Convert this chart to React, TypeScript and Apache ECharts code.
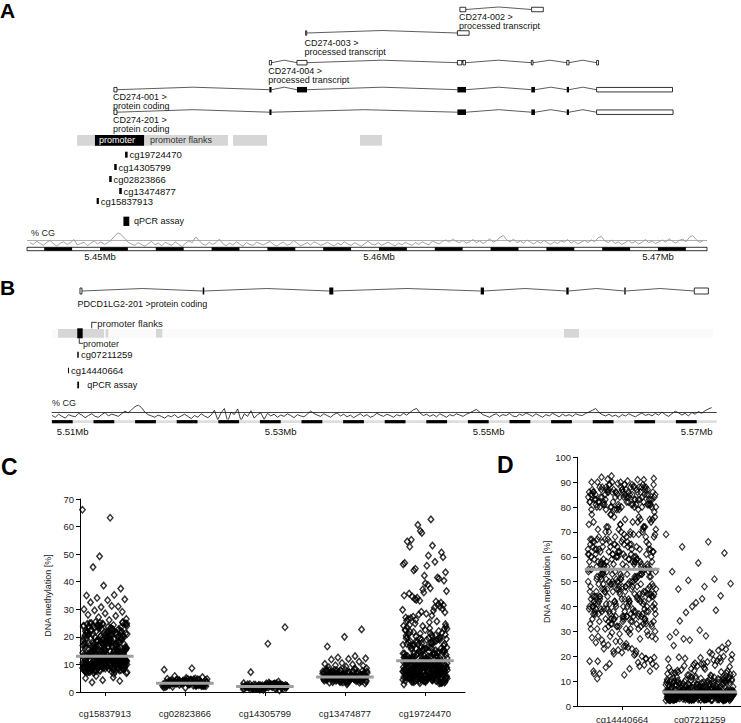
import React, { useEffect, useRef } from 'react';
import * as echarts from 'echarts';

const FONT = '"Liberation Sans", Arial, Helvetica, sans-serif';

// ---------------- Panel A : CD274 locus (positions in kb) ----------------
const A_TRANSCRIPTS = ['CD274-002', 'CD274-003', 'CD274-004', 'CD274-001', 'CD274-201'];
const A_BIOTYPES = ['processed transcript', 'processed transcript', 'processed transcript', 'protein coding', 'protein coding'];
// [transcript index, start kb, end kb, coding(1) / non-coding(0)]
const A_EXONS = [
  [0, 5462.90, 5463.11, 0], [0, 5465.47, 5465.89, 0],
  [1, 5457.37, 5457.41, 0], [1, 5462.81, 5463.23, 0],
  [2, 5456.07, 5456.15, 0], [2, 5457.06, 5457.42, 0], [2, 5462.81, 5462.97, 0], [2, 5463.01, 5463.10, 0],
  [2, 5465.46, 5465.52, 0], [2, 5466.73, 5466.81, 0], [2, 5467.80, 5467.87, 0],
  [3, 5450.50, 5450.61, 0], [3, 5456.07, 5456.15, 1], [3, 5457.06, 5457.42, 1], [3, 5462.81, 5463.12, 1],
  [3, 5465.46, 5465.59, 1], [3, 5466.73, 5466.81, 1], [3, 5467.80, 5470.52, 0],
  [4, 5450.50, 5450.61, 0], [4, 5456.07, 5456.15, 1], [4, 5462.81, 5463.12, 1],
  [4, 5465.46, 5465.59, 1], [4, 5466.73, 5466.81, 1], [4, 5467.80, 5470.54, 0],
];
// [start kb, end kb, promoter(1) / flank(0)]
const A_REGULATORY = [[5449.18, 5454.59, 0], [5454.77, 5455.99, 0], [5459.32, 5460.11, 0], [5449.82, 5451.58, 1]];
const A_PROBES = ['cg19724470', 'cg14305799', 'cg02823866', 'cg13474877', 'cg15837913'];
const A_PROBE_POS = [[5450.90, 5450.99], [5450.51, 5450.60], [5450.33, 5450.42], [5450.69, 5450.78], [5449.88, 5449.96]];
const A_QPCR = [5450.84, 5451.05];
const A_SCALE_TICKS = [5450, 5460, 5470];
const A_GC_START = 5447.49;
const A_GC_END = 5471.61;
const A_GC = [
  44, 40, 47, 42, 38, 45, 49, 41, 36, 43, 46, 40, 44, 51, 39, 42, 45, 37, 43, 48, 41, 46, 40, 44, 50,
  58, 66, 62, 54, 45,
  41, 38, 44, 40, 36, 42, 47, 39, 43, 37, 45, 41, 38, 46, 40, 35, 43, 48, 44, 57,
  49, 41, 38, 45, 40, 44, 52, 42, 37, 43, 39, 46, 41, 36, 44, 40, 38, 45, 42, 39,
  43, 47, 40, 36, 42, 45, 38, 41, 49, 43, 37, 40, 44, 39, 46, 42, 38, 41, 45, 40,
  37, 43, 39, 46, 41, 38, 44, 40, 36, 42, 47, 41, 39, 44, 38, 42, 45, 40, 37, 43,
  39, 45, 41, 38, 44, 40, 46, 42, 39, 48, 44, 41, 47, 50, 45, 52, 47, 44, 49, 43,
  46, 51, 44, 48, 42, 47, 53, 45, 49, 56, 60, 50, 46, 52, 44, 48, 43, 50, 45, 41,
  47, 43, 49, 44, 40, 46, 42, 48, 45, 51, 43, 47, 41, 45, 49, 44, 50, 46, 55, 58,
  48, 44, 50, 42, 46, 40, 44, 49, 43, 47, 41, 45, 51, 44, 48, 42, 46, 50, 45, 53,
  47, 43, 49, 52, 46, 56, 60, 51, 45, 48,
];

// ---------------- Panel B : PDCD1LG2 locus ----------------
const B_TRANSCRIPT = 'PDCD1LG2-201';
const B_BIOTYPE = 'protein coding';
const B_EXONS = [
  [5510.70, 5510.89, 0], [5522.50, 5522.65, 1], [5534.67, 5535.06, 1], [5549.23, 5549.55, 1],
  [5557.46, 5557.69, 1], [5563.04, 5563.17, 1], [5569.77, 5571.12, 0],
];
const B_REGULATORY = [[5508.59, 5513.01, 0], [5513.17, 5513.42, 0], [5518.01, 5518.62, 0], [5557.24, 5558.68, 0], [5510.44, 5510.96, 1]];
const B_PROBES = ['cg07211259', 'cg14440664'];
const B_PROBE_POS = [[5510.44, 5510.58], [5509.55, 5509.64]];
const B_QPCR = [5510.44, 5510.61];
const B_SCALE_TICKS = [5510, 5530, 5550, 5570];
const B_GC_START = 5508.01;
const B_GC_END = 5571.44;
const B_GC = [
  42, 38, 45, 40, 36, 44, 41, 39, 47, 43, 37, 42, 46, 40, 38, 44, 49, 41, 45, 43,
  40, 46, 52, 48, 55, 62, 66, 60, 50, 44, 41, 38, 43, 40, 36, 42, 39, 44, 37, 41,
  45, 40, 35, 42, 38, 46, 41, 37, 43, 54, 32, 48, 58, 28, 50, 44, 57, 30, 46, 40,
  53, 36, 44, 48, 33, 47, 41, 45, 38, 43, 40, 46, 42, 37, 44, 41, 39, 45, 52, 47,
  43, 40, 46, 42, 38, 44, 48, 41, 45, 39, 43, 37, 42, 46, 40, 44, 38, 41, 47, 43,
  40, 45, 42, 38, 44, 41, 47, 43, 49, 55, 58, 48, 42, 45, 40, 44, 39, 46, 42, 38,
  44, 41, 46, 43, 40, 45, 48, 52, 56, 50, 44, 41, 38, 43, 46, 40, 44, 42, 47, 41,
  39, 45, 42, 48, 44, 40, 46, 42, 38, 44, 41, 47, 43, 39, 45, 41, 44, 40, 46, 43,
  42, 47, 50, 54, 58, 49, 44, 41, 45, 40, 43, 38, 44, 41, 46, 42, 39, 44, 48, 42,
  45, 41, 47, 43, 50, 44, 40, 46, 52, 48, 43, 47, 41, 49, 45, 51, 47, 53, 57, 60,
];

// ---------------- Panel C ----------------
const C_PROBES = ['cg15837913', 'cg02823866', 'cg14305799', 'cg13474877', 'cg19724470'];
const C_MEDIANS = [13.0, 3.2, 2.0, 5.4, 11.3];
const C_cg15837913 = [
  9.7, 12.4, 7.8, 11.2, 10.3, 8.6, 12.9, 9.9, 11.8, 8.2, 10.6, 12.2, 9.3, 7.4, 11.5, 10.1, 8.9, 12.7, 9.5, 11.1,
  10.8, 7.1, 12.1, 9.1, 11.6, 8.4, 10.4, 12.6, 9.6, 7.6, 11.3, 10.9, 8.1, 12.3, 9.0, 11.9, 10.2, 8.7, 12.8, 9.8,
  7.9, 11.0, 10.5, 8.3, 12.5, 9.2, 11.7, 10.0, 8.8, 12.0, 9.4, 7.3, 11.4, 10.7, 8.5, 12.9, 9.9, 11.2, 6.8, 10.3,
  8.0, 12.2, 9.6, 11.6, 10.6, 7.7, 12.4, 9.1, 11.8, 8.6, 10.1, 12.7, 9.4, 6.9, 11.1, 10.4, 8.2, 12.1, 9.7, 11.5,
  10.9, 8.9, 12.6, 9.3, 7.5, 11.3, 10.0, 8.4, 12.3, 9.0, 11.9, 10.8, 7.2, 12.8, 9.8, 11.0, 8.7, 10.5, 6.6, 12.0,
  15.1, 18.9, 22.3, 13.6, 20.4, 24.1, 16.7, 14.9, 19.5, 21.7, 13.1, 17.4, 23.6, 15.7, 20.9, 14.3, 18.1, 24.8, 16.2, 22.7,
  13.9, 19.8, 17.9, 21.2, 14.6, 25.1, 16.9, 23.3, 15.4, 19.2, 13.3, 21.9, 17.1, 24.4, 15.9, 20.1, 14.1, 18.6, 22.9, 13.7,
  16.4, 19.9, 25.3, 14.8, 17.6, 21.4, 15.2, 23.9, 18.4, 20.7, 16.1, 24.6, 19.4, 14.4, 22.1, 17.3, 13.4, 25.0, 15.6, 20.2,
  18.8, 23.1, 14.7, 19.1, 16.6, 21.6, 13.8, 24.2, 15.3, 18.3, 22.5, 14.2, 17.7, 20.6, 16.3, 25.4, 13.5, 18.2, 23.7, 16.8,
  49.2, 66.1, 63.2, 45.3, 37.5, 38.6, 35.0, 35.2, 34.1, 33.6, 33.3, 32.5, 31.0, 30.8, 30.0, 31.2, 29.6, 29.1, 28.5, 28.0,
  27.6, 27.1, 26.5, 26.1, 3.5, 4.0, 4.3, 5.0, 5.3, 5.8,
  8.3, 11.4, 9.5, 12.6, 7.7, 10.2, 12.1, 8.8, 11.0, 9.3, 10.7, 7.5, 12.4, 9.9, 11.7, 8.1, 10.4, 12.9, 9.0, 11.2,
  7.9, 10.9, 12.3, 8.6, 11.5, 9.6, 10.0, 12.7, 8.4, 11.9, 9.2, 7.3, 10.6, 12.0, 8.9, 11.3, 9.7, 10.3, 12.5, 8.2,
  11.6, 7.6, 10.1, 12.8, 9.4, 11.1, 8.7, 10.8, 12.2, 9.1, 7.8, 11.8, 10.5, 8.5, 12.6, 9.8, 11.4, 7.2, 10.0, 9.5,
  14.2, 20.3, 17.8, 23.4, 15.6, 21.5, 13.2, 18.7, 24.9, 16.5, 19.7, 22.8, 14.9, 17.2, 21.1, 13.7, 25.2, 18.1, 15.8, 20.8,
  23.0, 16.0, 19.3, 14.5, 22.4, 17.5, 13.4, 24.3, 18.5, 15.1, 21.8, 16.9, 20.0, 14.0, 23.8, 19.0, 17.0, 22.0, 15.4, 24.7,
  13.9, 18.4, 21.3, 16.3, 25.0, 14.6, 19.5, 17.7, 22.6, 15.9, 20.5, 13.1, 23.5, 18.0, 16.6, 21.0, 14.8, 24.0, 19.9, 17.3,
  10.2, 14.6, 18.3, 11.7, 21.2, 9.1, 16.0, 13.3, 19.6, 8.6, 23.2, 12.5, 15.5, 20.6, 10.9, 17.2, 24.5, 12.0, 14.1, 9.6,
  18.8, 22.0, 11.4, 16.8, 13.8, 20.0, 8.9, 15.0, 24.0, 10.6, 17.9, 12.8, 21.6, 14.4, 9.3, 19.3, 11.1, 16.3, 23.6, 13.0,
  8.4, 18.0, 12.3, 22.7, 15.8, 10.0, 20.9, 14.0, 17.4, 11.9, 24.8, 9.8, 16.6, 13.6, 19.0, 10.4, 21.9, 15.3, 12.6, 18.5,
];
const C_cg02823866 = [
  3.1, 2.4, 4.2, 3.6, 2.8, 1.9, 3.9, 3.3, 2.6, 4.6, 3.0, 2.2, 3.7, 4.1, 2.9, 3.4, 1.7, 4.4, 3.2, 2.5,
  3.8, 2.7, 4.9, 3.5, 2.1, 3.0, 4.3, 2.8, 3.6, 1.8, 4.0, 3.3, 2.4, 5.1, 3.1, 2.6, 3.9, 2.3, 4.5, 3.4,
  2.9, 3.7, 2.0, 4.1, 3.2, 2.7, 4.7, 3.5, 2.5, 3.0, 8.1, 8.6, 5.8, 5.4, 1.5, 3.8, 2.2, 4.3, 3.6, 2.9,
  3.3, 2.7, 4.0, 3.5, 2.3, 4.4, 3.0, 3.8, 2.5, 4.6, 3.2, 2.9, 4.1, 3.6, 2.1, 3.9, 4.8, 2.6, 3.4, 4.2,
  2.8, 3.7, 4.5, 3.1, 2.4, 4.0, 3.5, 2.2, 4.3, 3.0, 3.8, 2.6, 4.7, 3.3, 2.9, 3.6, 4.1, 2.7, 3.2, 4.4,
];
const C_cg14305799 = [
  1.9, 2.6, 1.2, 2.2, 3.0, 1.6, 2.4, 0.8, 1.8, 2.9, 1.4, 2.1, 2.7, 1.0, 2.3, 1.7, 3.2, 2.0, 1.3, 2.5,
  1.9, 2.8, 1.1, 2.2, 1.5, 3.4, 2.0, 0.6, 2.4, 1.8, 2.6, 1.3, 2.1, 3.1, 1.7, 2.3, 0.9, 2.0, 2.7, 1.6,
  2.5, 1.4, 2.2, 3.0, 1.9, 23.5, 17.5, 7.2, 3.8, 2.1, 1.2, 2.8, 1.8, 2.4, 1.5,
  2.1, 1.5, 2.6, 1.9, 2.3, 1.1, 2.8, 1.7, 2.0, 2.5, 1.3, 2.2, 1.8, 2.9, 1.6, 2.4, 1.0, 2.1, 2.7, 1.4,
  2.3, 1.9, 3.0, 1.2, 2.5, 1.7, 2.0, 2.8, 1.5, 2.2, 1.8, 2.6, 1.1, 2.4, 1.9, 3.1, 1.6, 2.1, 2.7, 1.3,
];
const C_cg13474877 = [
  5.2, 6.8, 4.1, 7.5, 5.9, 3.6, 6.2, 4.8, 8.1, 5.5, 4.4, 7.0, 3.2, 6.5, 5.0, 7.8, 4.6, 6.0, 5.7, 3.9,
  6.9, 4.9, 8.4, 5.3, 4.2, 7.2, 5.8, 3.4, 6.4, 4.7, 7.6, 5.1, 6.1, 4.0, 8.0, 5.6, 3.7, 6.7, 4.5, 7.3,
  5.4, 6.3, 4.3, 8.3, 5.0, 3.1, 6.6, 4.8, 7.1, 5.9, 4.1, 6.0, 5.3, 7.7, 3.8, 6.2, 4.6, 5.5, 8.6, 4.4,
  6.5, 5.1, 3.5, 7.4, 4.9, 6.8, 5.7, 2.8, 6.1, 4.2, 7.9, 5.2, 4.7, 6.4,
  22.7, 20.0, 16.5, 13.0, 12.5, 12.2, 12.0, 11.8, 11.0, 10.5, 10.2, 10.0, 9.7, 9.5, 9.2, 9.0,
  5.6, 4.3, 6.9, 5.0, 7.4, 3.9, 6.2, 5.4, 4.7, 7.8, 5.9, 4.1, 6.6, 5.2, 3.6, 7.0, 5.7, 4.5, 6.3, 8.2,
  4.9, 5.5, 6.8, 3.8, 7.2, 5.1, 4.4, 6.0, 5.8, 7.6, 4.0, 6.5, 5.3, 3.4, 6.9, 4.8, 7.5, 5.6, 4.2, 6.1,
  5.0, 7.9, 4.6, 6.4, 5.4, 3.7, 7.1, 5.9, 4.3, 6.7, 5.2, 8.0, 4.9, 6.2, 5.7, 3.9, 7.3, 5.5, 4.5, 6.6,
];
const C_cg19724470 = [
  5.2, 8.7, 3.9, 10.4, 6.6, 9.3, 4.8, 7.5, 11.0, 5.9, 8.1, 3.4, 9.9, 6.2, 7.8, 4.5, 10.8, 5.6, 8.9, 6.9,
  4.1, 9.6, 7.2, 10.1, 5.4, 8.4, 3.7, 6.5, 11.2, 7.9, 4.9, 9.1, 6.0, 10.6, 5.1, 8.2, 3.2, 7.4, 9.5, 6.3,
  4.6, 10.9, 5.8, 8.6, 7.0, 3.8, 9.8, 6.7, 11.1, 5.3, 8.0, 4.3, 10.3, 7.6, 6.1, 9.2, 4.0, 8.8, 5.7, 10.7,
  6.4, 3.5, 9.4, 7.3, 5.0, 10.0, 8.3, 4.4, 6.8, 11.3, 5.5, 9.0, 7.1, 3.6, 8.5, 6.0, 10.5, 4.7, 7.7, 9.7,
  5.9, 8.1, 3.1, 10.2, 6.6, 4.2, 9.3, 7.4, 5.2, 11.0, 8.9, 6.3, 4.9, 10.6, 7.8, 3.3, 9.1, 5.6, 8.4, 6.9,
  4.6, 10.1, 7.0, 5.4, 9.6, 2.8, 8.0, 6.2, 10.8, 4.1, 7.5, 9.9, 5.8, 8.7, 6.5,
  12.4, 18.9, 15.2, 22.6, 13.7, 20.1, 16.8, 11.9, 24.3, 14.5, 19.4, 17.1, 12.8, 21.7, 15.9, 13.2, 23.5, 18.2, 14.1, 20.8,
  16.4, 11.6, 22.1, 19.0, 13.9, 17.6, 24.8, 15.0, 12.2, 21.0, 18.6, 14.8, 16.1, 23.1, 12.9, 19.8, 15.5, 20.4, 13.4, 17.9,
  22.9, 11.8, 16.7, 19.2, 14.3, 24.0, 18.0, 12.6, 21.4, 15.7, 13.0, 20.6, 17.3, 23.8, 14.7, 16.0, 19.6, 12.1, 22.4, 18.4,
  26.2, 31.5, 28.4, 35.7, 25.6, 33.1, 29.8, 37.6, 27.3, 32.4, 36.1, 25.9, 30.6, 34.2, 28.9, 38.9, 26.8, 31.9, 29.1, 35.0,
  27.7, 33.8, 30.2, 39.4, 26.5, 32.8, 28.1, 36.6, 25.3, 34.6, 30.9, 37.2, 27.0, 29.5, 33.4,
  40.4, 45.8, 52.7, 41.5, 58.4, 46.3, 62.6, 44.1, 50.6, 42.2, 54.6, 47.2, 60.6, 43.4, 49.5, 55.2, 41.1, 57.7, 46.8, 53.1,
  44.7, 48.9,
  4.5, 7.2, 9.8, 5.6, 12.3, 6.9, 3.8, 8.5, 10.9, 5.1, 14.2, 7.7, 4.2, 9.3, 6.3, 11.8, 8.0, 5.4, 16.1, 7.0,
  3.5, 10.2, 6.6, 8.8, 4.8, 13.5, 9.6, 5.9, 7.5, 11.1, 4.0, 8.2, 6.1, 15.3, 9.0, 5.3, 12.7, 7.9, 4.4, 10.5,
  6.8, 8.6, 3.9, 17.4, 5.7, 9.4, 7.3, 11.6, 4.7, 6.4, 13.0, 8.3, 5.0, 10.0, 7.6, 3.6, 9.1, 6.0, 14.7, 8.9,
  5.5, 12.0, 7.1, 4.3, 10.7, 6.5, 18.6, 8.1, 5.2, 9.7, 4.6, 11.4, 7.4, 6.2, 13.9, 3.3, 8.7, 5.8, 10.3, 7.8,
  4.9, 19.5, 6.7, 9.2, 5.4, 12.6, 8.4, 4.1, 7.0, 15.8, 6.3, 10.8, 5.6, 8.0, 21.3, 4.5, 9.5, 7.2, 11.9, 6.1,
  9.4, 14.8, 11.2, 18.3, 6.9, 16.5, 12.5, 20.7, 8.2, 13.6, 22.5, 10.6, 15.1, 7.4, 19.2, 11.9, 17.0, 9.0, 23.9, 13.1,
  6.2, 15.7, 10.1, 18.9, 12.2, 8.6, 21.2, 14.0, 9.8, 16.9, 11.4, 7.7, 19.9, 13.8, 10.4, 24.6, 12.9, 15.6, 8.9, 17.7,
  11.6, 20.2, 7.1, 14.5, 10.8, 18.0, 13.3, 9.5, 22.9, 16.2, 12.0, 8.0, 15.0, 19.5, 10.0, 13.5, 17.4, 11.0, 21.8, 14.2,
];

// ---------------- Panel D ----------------
const D_PROBES = ['cg14440664', 'cg07211259'];
const D_MEDIANS = [55.0, 5.6];
const D_cg14440664 = [
  11, 16, 22, 27, 15, 25, 19, 29, 14, 21, 17, 28, 24, 13, 20, 26, 18, 23, 15.5, 28.5, 21.5, 25.5, 17.5, 29.5, 19.5,
  23.5, 26.5, 16.5, 22.5, 27.5, 20.5, 24.5, 18.5, 12.5, 28,
  42, 35, 50, 31, 47, 38, 53, 44, 33, 49, 40, 36, 52, 45, 32, 48, 39, 54, 43, 34,
  51, 37, 46, 30, 41, 53, 35, 48, 44, 38, 50, 33, 46, 42, 36, 54, 39, 47, 31, 45,
  52, 37, 43, 49, 34, 40, 51, 46, 32, 55, 38, 44, 48, 36, 41, 53, 35, 47, 50, 39,
  33, 45, 42, 52, 37, 49, 31, 43, 54, 40, 46, 34, 51, 38, 48, 44, 36, 53, 41, 30,
  47, 39, 50, 35, 45, 32, 52, 43, 37, 49, 42, 54, 34, 46, 40, 51, 38, 44, 33, 48,
  36, 53, 41, 47, 31, 50, 39, 45, 35, 52, 43, 49, 37, 42, 54, 46, 32, 40, 51, 38,
  44, 48, 34, 53, 41,
  58, 63, 70, 56, 66, 61, 74, 59, 68, 64, 57, 72, 62, 77, 60, 67, 55, 65, 71, 58,
  76, 63, 69, 57, 61, 73, 66, 59, 64, 75, 56, 62, 70, 60, 67, 58, 72, 65, 57, 63,
  69, 61, 76, 59, 66, 55, 71, 64, 58, 62, 74, 60, 68, 56, 65, 73, 61, 67, 57, 70,
  63, 59, 77, 62, 66, 58, 72, 64, 60, 69, 56, 75, 61, 67, 63, 57, 71, 65, 59, 68,
  62, 74, 60, 66, 58,
  84, 88, 80, 86, 82, 89, 79, 85, 87, 81, 83, 90, 78, 86, 84, 88, 81, 85, 80, 87,
  83, 89, 82, 86, 79, 84, 88, 81, 85, 90, 83, 87, 80, 86, 82, 84, 89, 79, 85, 81,
  87, 83, 86, 80, 88, 82, 85, 84, 81, 87, 79, 86, 83, 89, 80, 85, 82, 88, 84, 86,
  81, 83, 87, 80, 85, 91, 92.5, 91.5, 90.5, 92, 91, 89.5, 90, 88.5, 91.2,
  14, 24, 18, 27, 21, 16, 29, 23, 19, 26, 13, 22, 28, 17, 25,
  44, 37, 51, 33, 48, 41, 54, 36, 46, 31, 50, 39, 43, 53, 35, 47, 40, 52, 34, 45,
  38, 49, 32, 42, 55, 37, 46, 30, 51, 41, 48, 35, 44, 53, 39, 33, 50, 43, 36, 47,
  52, 40, 31, 45, 38, 54, 42, 49, 34, 46, 37, 51, 41, 32, 48, 44, 53, 36, 40, 50,
  35, 47, 43, 39, 52, 33, 45, 49, 38, 42,
  60, 67, 57, 72, 63, 69, 58, 75, 65, 61, 70, 56, 66, 73, 59, 64, 77, 62, 68, 57,
  71, 60, 65, 74, 58, 63, 67, 56, 76, 61, 69, 59, 64, 72, 62, 66, 58, 70, 60, 75,
  63, 57, 68, 61, 65,
  85, 81, 88, 83, 86, 80, 89, 84, 87, 82, 85, 79, 88, 86, 81, 84, 90, 83, 87, 80,
  85, 82, 88, 84, 86, 81, 89, 83, 87, 80, 84, 86, 82, 85, 88, 81, 87, 83, 79, 86,
  84, 82, 88, 85, 80, 87, 83, 86, 81, 89,
];
const D_cg07211259 = [
  3.4, 5.1, 2.6, 4.7, 3.9, 5.8, 2.9, 4.2, 3.1, 5.5, 4.4, 2.3, 3.7, 5.0, 4.0, 2.8, 5.9, 3.3, 4.6, 2.5,
  5.3, 3.6, 4.9, 2.7, 4.1, 5.6, 3.0, 4.5, 3.8, 2.4, 5.2, 4.3, 3.2, 5.7, 2.9, 4.8, 3.5, 2.2, 5.4, 4.0,
  3.9, 2.6, 5.0, 4.4, 3.1, 5.8, 2.8, 4.6, 3.6, 5.3, 2.5, 4.2, 3.4, 5.9, 4.7, 2.7, 3.8, 5.1, 4.1, 3.0,
  5.5, 2.3, 4.9, 3.3, 5.6, 4.5, 2.9, 3.7, 5.2, 4.0, 2.6, 4.8, 3.5, 5.7, 3.1, 4.3, 2.4, 5.4, 3.9, 4.6,
  2.8, 5.0, 3.2, 4.4, 5.8, 2.5, 3.6, 5.3, 4.1, 3.0, 4.7, 2.7, 5.5, 3.8, 4.2, 2.2, 5.1, 3.4, 4.9, 5.9,
  3.3, 2.6, 4.5, 5.6, 3.7, 2.9, 4.0, 5.2, 3.1, 4.8, 2.4, 5.7, 3.5, 4.3, 2.8, 5.0, 3.9, 4.6, 2.3, 5.4,
  3.2, 4.1, 5.8, 2.7, 3.6, 4.4, 5.3, 3.0, 4.7, 2.5, 5.1, 3.8, 4.2, 5.5, 2.9, 3.4, 4.9, 5.6, 3.3, 4.0,
  7.2, 9.8, 6.4, 11.1, 8.3, 6.9, 10.4, 7.7, 9.1, 6.1, 11.8, 8.6, 7.0, 10.0, 6.6, 9.4, 8.0, 11.5, 7.4, 6.3,
  10.7, 8.9, 6.8, 9.6, 7.9, 11.3, 6.2, 8.4, 10.2, 7.5, 9.0, 6.7, 11.9, 8.1, 7.1, 10.5, 6.5, 9.3, 8.7, 11.0,
  7.6, 6.0, 9.9, 8.2, 10.9, 6.9, 7.3, 11.6, 8.8, 6.4, 9.5, 10.3, 7.8, 6.1, 8.5, 11.2, 7.0, 9.2, 6.6, 10.1,
  8.0, 11.7, 6.3, 9.7, 7.4, 10.8, 8.6, 6.8, 9.0, 7.9, 11.4, 6.5, 8.3, 10.6, 7.2, 9.4, 6.2, 8.9, 10.0, 7.6,
  13.1, 16.4, 12.5, 18.7, 14.8, 19.6, 13.7, 17.2, 15.5, 12.2, 19.1, 14.1, 16.9, 13.4, 18.2, 15.0, 12.8, 17.7, 14.5, 19.9,
  16.1, 13.9, 18.5, 12.4, 15.8, 17.0, 14.3, 19.3, 16.6, 13.0,
  21.5, 27.0, 22.8, 30.5, 24.3, 38.5, 26.5, 20.6, 28.2, 34.2, 23.6, 41.5, 27.8, 20.9, 37.6, 25.2, 43.1, 29.6, 22.3, 40.0,
  69.0, 66.0, 64.0, 61.5, 57.5, 54.0, 51.0, 50.5, 49.2, 48.0, 47.0, 44.3,
  4.1, 2.9, 5.3, 3.6, 4.8, 2.4, 3.9, 5.7, 3.2, 4.5, 2.7, 5.0, 3.8, 4.3, 2.5, 5.5, 3.4, 4.7, 3.0, 5.9,
  2.6, 4.0, 3.5, 5.2, 2.8, 4.6, 3.1, 5.6, 4.2, 2.3, 3.7, 5.1, 4.4, 2.9, 3.3, 5.8, 4.9, 2.6, 3.6, 5.4,
  4.0, 3.2, 2.4, 4.8, 5.3, 3.9, 2.7, 4.5, 3.4, 5.0, 2.8, 4.2, 5.7, 3.1, 4.6, 2.5, 3.8, 5.5, 4.3, 3.0,
  5.1, 2.6, 4.7, 3.5, 5.9, 2.9, 4.1, 3.3, 5.4, 4.4, 2.4, 3.7, 5.2, 4.9, 3.0, 2.7, 4.0, 5.6, 3.6, 4.6,
  2.8, 5.0, 3.2, 4.3, 5.8, 3.9, 2.5, 4.8, 3.4, 5.3, 4.1, 2.3, 3.8, 5.5, 4.5, 3.1, 2.6, 4.9, 5.7, 3.5,
  7.5, 9.1, 6.3, 10.6, 8.0, 6.8, 11.4, 7.2, 9.7, 6.0, 8.6, 10.1, 7.8, 6.5, 11.9, 8.3, 9.4, 6.9, 7.1, 10.8,
  6.2, 8.9, 7.7, 11.2, 9.9, 6.6, 8.1, 10.4, 7.3, 6.4, 9.5, 11.6, 8.5, 7.0, 6.1, 10.0, 8.7, 7.9, 9.2, 6.7,
  12.7, 15.4, 13.6, 17.9, 14.2, 18.8, 12.3, 16.2, 13.3, 19.4,
];

// ---------------- Layout (pixels) ----------------
const LA = {
  left: 27, width: 680, xmin: 5447.384, xmax: 5471.757,
  rows: [9.5, 33, 62.7, 89.7, 112.2], labelTop: [3, 5.5, 3.5, 3, 3],
  reg: 140.3, regH: 10.7, probes: [154.7, 167, 179, 191, 201], qpcr: 221.3,
  gcTop: 232, gcH: 16, bar: 249, barH: 3.4, tickLabel: 256.7, gcLabel: 233.2,
};
const LB = {
  left: 51.7, width: 665, xmin: 5507.981, xmax: 5571.923, top: 275, bottom: 440,
  row: 291, label: 304, reg: 333.3, regH: 8.7, probes: [354.7, 370.5], qpcr: 385,
  gcTop: 405, gcH: 14, bar: 421.7, barH: 2.8, tickLabel: 431.3, gcLabel: 403,
};

const jitter = (i: number) => ((i * 0.6180339887 + 0.137) % 1) * 2 - 1;

function txt(x: number, y: number, text: string, o: any = {}) {
  return { t: 'text', x, y, text, ...o };
}
function rect(x0: number, x1: number, y: number, h: number, fill: string, o: any = {}) {
  return { t: 'rect', x0, x1, y, h, fill, ...o };
}

function buildA() {
  const s: any[] = [];
  A_REGULATORY.forEach((r) => {
    s.push(rect(r[0], r[1], LA.reg, LA.regH, r[2] ? '#000' : '#d6d6d6'));
  });
  const prom = A_REGULATORY.find((r) => r[2] === 1)!;
  s.push(txt(prom[0], LA.reg, 'promoter', { dx: 4, color: '#fff', size: 9 }));
  s.push(txt(prom[1], LA.reg, 'promoter flanks', { dx: 6, color: '#333', size: 9 }));
  A_TRANSCRIPTS.forEach((name, t) => {
    const ex = A_EXONS.filter((e) => e[0] === t).sort((a, b) => a[1] - b[1]);
    const y = LA.rows[t];
    for (let i = 0; i < ex.length - 1; i++) {
      s.push({ t: 'intron', x0: ex[i][2], x1: ex[i + 1][1], y, hump: 2.5, color: '#333', lw: 0.8 });
    }
    ex.forEach((e) => {
      if (e[3]) s.push(rect(e[1], e[2], y, 5.5, '#000'));
      else s.push(rect(e[1], e[2], y, 4.5, '#fff', { stroke: '#000', lw: 0.8 }));
    });
    const top = y + LA.labelTop[t];
    s.push(txt(ex[0][1], top + 4.5, name + ' >', { dx: -1, size: 9 }));
    s.push(txt(ex[0][1], top + 13.5, A_BIOTYPES[t], { dx: -1, size: 9 }));
  });
  A_PROBES.forEach((p, i) => {
    const pos = A_PROBE_POS[i];
    s.push(rect(pos[0], pos[1], LA.probes[i], 6, '#000'));
    s.push(txt(pos[1], LA.probes[i], p, { dx: 1.8, size: 9.5 }));
  });
  s.push(rect(A_QPCR[0], A_QPCR[1], LA.qpcr, 9.3, '#000'));
  s.push(txt(A_QPCR[1], LA.qpcr, 'qPCR assay', { dx: 4.7, size: 9 }));
  s.push(txt(LA.xmin, LA.gcLabel, '% CG', { dx: 4, size: 9, color: '#222' }));
  s.push(rect(LA.xmin, LA.xmax, LA.bar, LA.barH, '#fff', { stroke: '#000', lw: 0.8 }));
  for (let k = 5448; k < LA.xmax - 1; k += 2) s.push(rect(k, k + 1, LA.bar, LA.barH, '#000'));
  A_SCALE_TICKS.forEach((v) => s.push(txt(v, LA.tickLabel, (v / 1000).toFixed(2) + 'Mb', { size: 9.5, align: 'center' })));
  return s;
}

function buildB() {
  const s: any[] = [];
  s.push(rect(LB.xmin, 5571.57, LB.reg, LB.regH, '#fafafa'));
  B_REGULATORY.forEach((r) => {
    if (r[2]) s.push(rect(r[0], r[1], LB.reg, 10, '#000'));
    else s.push(rect(r[0], r[1], LB.reg, LB.regH, '#d6d6d6'));
  });
  const prom = B_REGULATORY.find((r) => r[2] === 1)!;
  s.push({ t: 'poly', pts: [[5511.83, 328.3], [5511.83, 322.3], [5512.31, 322.3]], color: '#000', lw: 0.8 });
  s.push(txt(5512.31, 323.3, 'promoter flanks', { dx: 0.5, size: 9.5, color: '#222' }));
  s.push({ t: 'poly', pts: [[prom[0] + 0.19, 338.3], [prom[0] + 0.19, 343.3], [prom[1] + 0.03, 343.3]], color: '#000', lw: 0.8 });
  s.push(txt(prom[1] + 0.03, 343.6, 'promoter', { dx: 0, size: 9, color: '#222' }));
  for (let i = 0; i < B_EXONS.length - 1; i++) {
    s.push({ t: 'intron', x0: B_EXONS[i][1], x1: B_EXONS[i + 1][0], y: LB.row, hump: 2.5, color: '#333', lw: 0.8 });
  }
  B_EXONS.forEach((e) => {
    if (e[2]) s.push(rect(e[0], e[1], LB.row, 7, '#000'));
    else s.push(rect(e[0], e[1], LB.row, 6, '#fff', { stroke: '#000', lw: 0.8 }));
  });
  s.push(txt(B_EXONS[0][0], LB.label, B_TRANSCRIPT + ' >' + B_BIOTYPE, { dx: -2.5, size: 9 }));
  const probeH = [6, 5.6];
  const probeDx = [2.3, 2];
  B_PROBES.forEach((p, i) => {
    const pos = B_PROBE_POS[i];
    s.push(rect(pos[0], pos[1], LB.probes[i], probeH[i], '#000'));
    s.push(txt(pos[1], LB.probes[i], p, { dx: probeDx[i], size: 9.5 }));
  });
  s.push(rect(B_QPCR[0], B_QPCR[1], LB.qpcr, 6.7, '#000'));
  s.push(txt(B_QPCR[1], LB.qpcr, 'qPCR assay', { dx: 8.3, size: 9 }));
  s.push(txt(LB.xmin, LB.gcLabel, '% CG', { dx: 0.3, size: 9, color: '#222' }));
  s.push(rect(LB.xmin, LB.xmax, LB.bar, LB.barH, '#dedede'));
  for (let k = 5508; k < LB.xmax; k += 4) s.push(rect(k, Math.min(k + 2, LB.xmax), LB.bar, LB.barH + 0.4, '#000'));
  B_SCALE_TICKS.forEach((v) => s.push(txt(v, LB.tickLabel, (v / 1000).toFixed(2) + 'Mb', { size: 9.5, align: 'center' })));
  return s;
}

function specSeries(specs: any[], axisIndex: number) {
  return {
    type: 'custom',
    coordinateSystem: 'cartesian2d',
    xAxisIndex: axisIndex,
    yAxisIndex: axisIndex,
    silent: true,
    clip: false,
    data: specs.map((s) => [s.x0 ?? s.x ?? s.pts[0][0], s.y ?? s.pts[0][1]]),
    renderItem: (params: any, api: any) => {
      const s = specs[params.dataIndex];
      const c = (x: number, y: number) => api.coord([x, y]);
      if (s.t === 'rect') {
        const a = c(s.x0, s.y);
        const b = c(s.x1, s.y);
        return {
          type: 'rect',
          shape: { x: a[0], y: a[1] - s.h / 2, width: Math.max(b[0] - a[0], 1), height: s.h },
          style: { fill: s.fill, stroke: s.stroke || 'none', lineWidth: s.lw || 0 },
        };
      }
      if (s.t === 'intron') {
        const a = c(s.x0, s.y);
        const b = c(s.x1, s.y);
        return {
          type: 'polyline',
          shape: { points: [a, [(a[0] + b[0]) / 2, a[1] - s.hump], b] },
          style: { stroke: s.color, lineWidth: s.lw, fill: 'none' },
        };
      }
      if (s.t === 'poly') {
        return {
          type: 'polyline',
          shape: { points: s.pts.map((p: number[]) => c(p[0], p[1])) },
          style: { stroke: s.color, lineWidth: s.lw, fill: 'none' },
        };
      }
      const a = c(s.x, s.y);
      return {
        type: 'text',
        x: a[0] + (s.dx || 0),
        y: a[1],
        style: {
          text: s.text,
          fill: s.color || '#111',
          fontSize: s.size,
          fontFamily: FONT,
          align: s.align || 'left',
          verticalAlign: 'middle',
          textAlign: s.align || 'left',
          textVerticalAlign: 'middle',
        },
      };
    },
  };
}

function gcSeries(values: number[], start: number, end: number, idx: number, color: string, refColor: string) {
  const step = (end - start) / (values.length - 1);
  return {
    type: 'line',
    xAxisIndex: idx,
    yAxisIndex: idx,
    silent: true,
    showSymbol: false,
    symbol: 'none',
    lineStyle: { color, width: 0.8 },
    data: values.map((g, i) => [start + i * step, g]),
    markLine: {
      silent: true,
      symbol: ['none', 'none'],
      label: { show: false },
      lineStyle: { color: refColor, width: 0.8, type: 'solid' },
      data: [{ yAxis: 50 }],
    },
  };
}

function strip(vals: number[], k: number, half: number, xi: number, bw: number) {
  return {
    type: 'scatter',
    xAxisIndex: xi,
    yAxisIndex: xi,
    silent: true,
    progressive: 0,
    symbol: 'diamond',
    symbolSize: [5.5, 6.5],
    itemStyle: { color: 'rgba(255,255,255,0)', borderColor: '#000', borderWidth: bw },
    data: vals.map((v, i) => [k + jitter(i) * half, v]),
  };
}

function medianSeries(meds: number[], hw: number, xi: number) {
  return {
    type: 'custom',
    coordinateSystem: 'cartesian2d',
    xAxisIndex: xi,
    yAxisIndex: xi,
    silent: true,
    z: 5,
    data: meds.map((m, i) => [i + 1, m]),
    renderItem: (params: any, api: any) => {
      const a = api.coord([api.value(0) - hw, api.value(1)]);
      const b = api.coord([api.value(0) + hw, api.value(1)]);
      return { type: 'line', shape: { x1: a[0], y1: a[1], x2: b[0], y2: b[1] }, style: { stroke: '#9e9e9e', lineWidth: 3 } };
    },
  };
}

const hiddenAxis = (gridIndex: number, min: number, max: number, inverse = false) => ({
  type: 'value', gridIndex, min, max, inverse, show: false, splitLine: { show: false },
});

const axisLine = { show: true, lineStyle: { color: '#000', width: 1 } };
const axisLabelStyle = { color: '#222', fontSize: 9.5, fontFamily: FONT };

export default function App() {
  const ref = useRef<HTMLDivElement>(null);
  useEffect(() => {
    if (!ref.current) return;
    const chart = echarts.init(ref.current, null, { renderer: 'svg' });
    const cSeries = [C_cg15837913, C_cg02823866, C_cg14305799, C_cg13474877, C_cg19724470];
    const dSeries = [D_cg14440664, D_cg07211259];
    const option: any = {
      animation: false,
      backgroundColor: '#fff',
      textStyle: { fontFamily: FONT },
      grid: [
        { left: LA.left, width: LA.width, top: 0, height: 265, containLabel: false, outerBoundsMode: 'none' },
        { left: LA.left, width: LA.width, top: LA.gcTop, height: LA.gcH, containLabel: false, outerBoundsMode: 'none' },
        { left: LB.left, width: LB.width, top: LB.top, height: LB.bottom - LB.top, containLabel: false, outerBoundsMode: 'none' },
        { left: LB.left, width: LB.width, top: LB.gcTop, height: LB.gcH, containLabel: false, outerBoundsMode: 'none' },
        { left: 80, width: 385, top: 499, height: 193, containLabel: false, outerBoundsMode: 'none' },
        { left: 577, width: 164, top: 457.3, height: 248.7, containLabel: false, outerBoundsMode: 'none' },
      ],
      xAxis: [
        hiddenAxis(0, LA.xmin, LA.xmax),
        hiddenAxis(1, LA.xmin, LA.xmax),
        hiddenAxis(2, LB.xmin, LB.xmax),
        hiddenAxis(3, LB.xmin, LB.xmax),
        {
          type: 'value', gridIndex: 4, min: 0.69, max: 5.5,
          axisLine, splitLine: { show: false },
          axisTick: { show: true, length: 4, customValues: [1, 2, 3, 4, 5], lineStyle: { color: '#000' } },
          axisLabel: { ...axisLabelStyle, margin: 16, customValues: [1, 2, 3, 4, 5], formatter: (v: number) => C_PROBES[Math.round(v) - 1] },
        },
        {
          type: 'value', gridIndex: 5, min: 0.42, max: 2.53,
          axisLine, splitLine: { show: false },
          axisTick: { show: true, length: 4, customValues: [1, 2], lineStyle: { color: '#000' } },
          axisLabel: { ...axisLabelStyle, margin: 8, customValues: [1, 2], formatter: (v: number) => D_PROBES[Math.round(v) - 1] },
        },
      ],
      yAxis: [
        hiddenAxis(0, 0, 265, true),
        hiddenAxis(1, 32, 68),
        hiddenAxis(2, LB.top, LB.bottom, true),
        hiddenAxis(3, 34, 66),
        {
          type: 'value', gridIndex: 4, min: 0, max: 70, interval: 10,
          axisLine, splitLine: { show: false },
          axisTick: { show: true, length: 4, lineStyle: { color: '#000' } },
          axisLabel: { ...axisLabelStyle, margin: 6 },
          name: 'DNA methylation [%]', nameLocation: 'middle', nameGap: 18,
          nameTextStyle: { fontSize: 9, color: '#222', fontFamily: FONT },
        },
        {
          type: 'value', gridIndex: 5, min: 0, max: 100, interval: 10,
          axisLine, splitLine: { show: false },
          axisTick: { show: true, length: 4, lineStyle: { color: '#000' } },
          axisLabel: { ...axisLabelStyle, margin: 6 },
          name: 'DNA methylation [%]', nameLocation: 'middle', nameGap: 25,
          nameTextStyle: { fontSize: 9, color: '#222', fontFamily: FONT },
        },
      ],
      graphic: [
        { type: 'text', left: 0, top: 0, style: { text: 'A', fontSize: 21, fontWeight: 'bold', fontFamily: FONT, fill: '#000' } },
        { type: 'text', left: 0, top: 277, style: { text: 'B', fontSize: 21, fontWeight: 'bold', fontFamily: FONT, fill: '#000' } },
        { type: 'text', left: 1, top: 455, style: { text: 'C', fontSize: 23, fontWeight: 'bold', fontFamily: FONT, fill: '#000' } },
        { type: 'text', left: 497, top: 453, style: { text: 'D', fontSize: 23, fontWeight: 'bold', fontFamily: FONT, fill: '#000' } },
      ],
      series: [
        gcSeries(A_GC, A_GC_START, A_GC_END, 1, '#8a8a8a', '#9a9a9a'),
        specSeries(buildA(), 0),
        gcSeries(B_GC, B_GC_START, B_GC_END, 3, '#111', '#111'),
        specSeries(buildB(), 2),
        ...cSeries.map((v, i) => strip(v, i + 1, 0.28, 4, 1.45)),
        medianSeries(C_MEDIANS, 0.36, 4),
        ...dSeries.map((v, i) => strip(v, i + 1, 0.44, 5, 1.2)),
        medianSeries(D_MEDIANS, 0.48, 5),
      ],
    };
    chart.setOption(option);
    return () => chart.dispose();
  }, []);
  return (
    <div
      ref={ref}
      style={{ position: 'fixed', left: 0, top: 0, width: 741, height: 723, background: '#fff' }}
    />
  );
}
